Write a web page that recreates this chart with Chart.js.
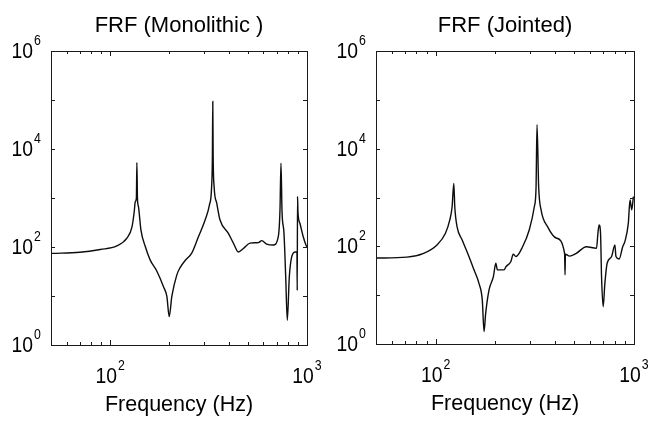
<!DOCTYPE html>
<html>
<head>
<meta charset="utf-8">
<script src="https://cdn.jsdelivr.net/npm/chart.js@4.4.1/dist/chart.umd.min.js"></script>
<style>
  html, body { margin: 0; padding: 0; background: #fff; }
  #wrap { position: relative; width: 664px; height: 422px; overflow: hidden; }
  .panel { position: absolute; top: 0; width: 332px; height: 422px; }
  #left { left: 0; }
  #right { left: 332px; }
</style>
</head>
<body>
<div id="wrap">
  <div class="panel" id="left"><canvas id="monoCanvas" width="332" height="422"></canvas></div>
  <div class="panel" id="right"><canvas id="jointCanvas" width="332" height="422"></canvas></div>
</div>
<script>
// FRF magnitudes (frequency in Hz)
const monoFreq = [50.6, 70, 89, 108, 121.5, 129, 132.4, 134, 135.8, 136.6, 137.5, 139.2, 143.2, 150.7, 159.7,
  172.6, 186.5, 194, 199.4, 205.6, 218, 226.5, 240.4, 260, 280.7, 303.5, 319.3, 327, 330.5, 332, 333.5, 337.3,
  348, 361.5, 398.5, 422.5, 448, 475, 513.6, 566.6, 589, 624, 674, 714.6, 729, 737.5, 746.6, 764, 779.5, 794,
  813, 836, 869, 889, 892, 895, 900, 921, 957, 988, 1000];
const monoMag = [74, 78, 89, 105, 151, 257, 525, 832, 1000, 5250, 1000, 660, 224, 102, 54,
  32, 15.5, 9.8, 3.8, 9.8, 27, 38, 53, 76, 162, 355, 724, 1500, 7000, 93000, 7000, 1700,
  776, 355, 190, 120, 79, 93, 120, 123, 135, 115, 110, 162, 575, 5130, 525, 190, 24.5, 3.2,
  24.5, 63, 79, 80, 13, 1070, 500, 302, 162, 110, 100];

const jointFreq = [50, 71.5, 86.9, 101.5, 112, 117.8, 121, 123.4, 124.8, 128.2, 136, 147.1, 156, 165.3, 171.8,
  175.3, 178.7, 185.8, 195.4, 201, 204.8, 221.4, 225.8, 239.4, 246, 254, 274.3, 296.5, 314.3, 320.6, 324.3,
  330.5, 339.8, 367, 405, 446.7, 449, 451, 473, 511.6, 575, 646.6, 659, 667, 678, 686, 699, 713, 732, 771,
  801, 811, 842, 877, 900, 936, 955, 974, 993];
const jointMag = [57.5, 60, 72, 107, 186, 347, 646, 1950, 646, 251, 135, 62, 33, 17.4, 7.9,
  1.8, 4.3, 12.9, 24, 45, 33, 33, 38, 49, 69, 62, 98, 219, 646, 1550, 31000,
  1660, 562, 251, 148, 72, 26, 69, 63, 72, 98, 91, 200, 275, 186, 24, 5.8, 17.4, 45, 62,
  107, 62, 55, 98, 126, 295, 890, 562, 1050];

// axis ticks
const yLabelExp = [0, 2, 4, 6];
const yDecades = [1, 10, 100, 1000, 10000, 100000, 1000000];
const xLabelExp = [2, 3];
const xMinor = [60, 70, 80, 90, 200, 300, 400, 500, 600, 700, 800, 900];

const FONT = '"Liberation Sans", Arial, Helvetica, sans-serif';
const INK = "#000000";

function drawPower(ctx, exp, x, y, align) {
  // "10" with a raised exponent, slightly condensed like the scanned figure
  const sx = 0.88;
  ctx.font = "22px " + FONT;
  const wBase = ctx.measureText("10").width * sx;
  ctx.font = "14px " + FONT;
  const wExp = ctx.measureText(String(exp)).width * sx;
  let left;
  if (align === "right") left = x - wBase; // x = right edge of "10"
  else left = x - (wBase + 1 + wExp) / 2;
  ctx.save();
  ctx.translate(left, y);
  ctx.scale(sx, 1);
  ctx.font = "22px " + FONT;
  ctx.fillText("10", 0, 0);
  ctx.font = "14px " + FONT;
  ctx.fillText(String(exp), (wBase + 1) / sx, -13);
  ctx.restore();
}

const frfFrame = {
  id: "frfFrame",
  afterDraw(chart, args, opts) {
    const ctx = chart.ctx;
    const a = chart.chartArea;
    const xs = chart.scales.x, ys = chart.scales.y;
    ctx.save();
    ctx.strokeStyle = "#1a1a1a";
    ctx.lineWidth = 1;
    ctx.strokeRect(a.left + 0.5, a.top + 0.5, a.right - a.left, a.bottom - a.top);

    // inward tick marks
    ctx.beginPath();
    yDecades.forEach(v => {
      const py = Math.round(ys.getPixelForValue(v)) + 0.5;
      ctx.moveTo(a.left, py); ctx.lineTo(a.left + 4, py);
      ctx.moveTo(a.right, py); ctx.lineTo(a.right - 4, py);
    });
    xMinor.concat([100]).forEach(v => {
      const px = Math.round(xs.getPixelForValue(v)) + 0.5;
      const len = v === 100 ? 5 : 3;
      ctx.moveTo(px, a.bottom); ctx.lineTo(px, a.bottom - len);
      ctx.moveTo(px, a.top); ctx.lineTo(px, a.top + len);
    });
    ctx.stroke();

    ctx.fillStyle = INK;
    ctx.textBaseline = "alphabetic";
    ctx.textAlign = "left";
    yLabelExp.forEach(e => {
      const py = ys.getPixelForValue(Math.pow(10, e));
      drawPower(ctx, e, a.left - 18, py + 7, "right");
    });
    xLabelExp.forEach(e => {
      const px = xs.getPixelForValue(Math.pow(10, e));
      drawPower(ctx, e, px, a.bottom + 38, "center");
    });

    ctx.textAlign = "center";
    const cx = (a.left + a.right) / 2;
    ctx.font = "22px " + FONT;
    ctx.fillText(opts.title, cx, 32);
    ctx.font = "21.5px " + FONT;
    ctx.fillText("Frequency (Hz)", cx, a.bottom + 66);
    ctx.restore();
  }
};

function makeChart(id, freq, mag, title, padding) {
  return new Chart(document.getElementById(id), {
    type: "line",
    data: {
      datasets: [{
        data: freq.map((f, i) => ({ x: f, y: mag[i] })),
        borderColor: "#0d0d0d",
        borderWidth: 1.4,
        pointRadius: 0,
        cubicInterpolationMode: "monotone",
        fill: false,
      }],
    },
    options: {
      responsive: false,
      animation: false,
      devicePixelRatio: 1,
      layout: { padding: padding },
      plugins: {
        legend: { display: false },
        tooltip: { enabled: false },
        frfFrame: { title: title },
      },
      scales: {
        x: { type: "logarithmic", min: 50, max: 1000, display: false },
        y: { type: "logarithmic", min: 1, max: 1000000, display: false },
      },
    },
    plugins: [frfFrame],
  });
}

makeChart("monoCanvas", monoFreq, monoMag, "FRF (Monolithic )", { left: 51, right: 25, top: 51, bottom: 77 });
makeChart("jointCanvas", jointFreq, jointMag, "FRF (Jointed)", { left: 44, right: 30, top: 51, bottom: 78 });
</script>
</body>
</html>
